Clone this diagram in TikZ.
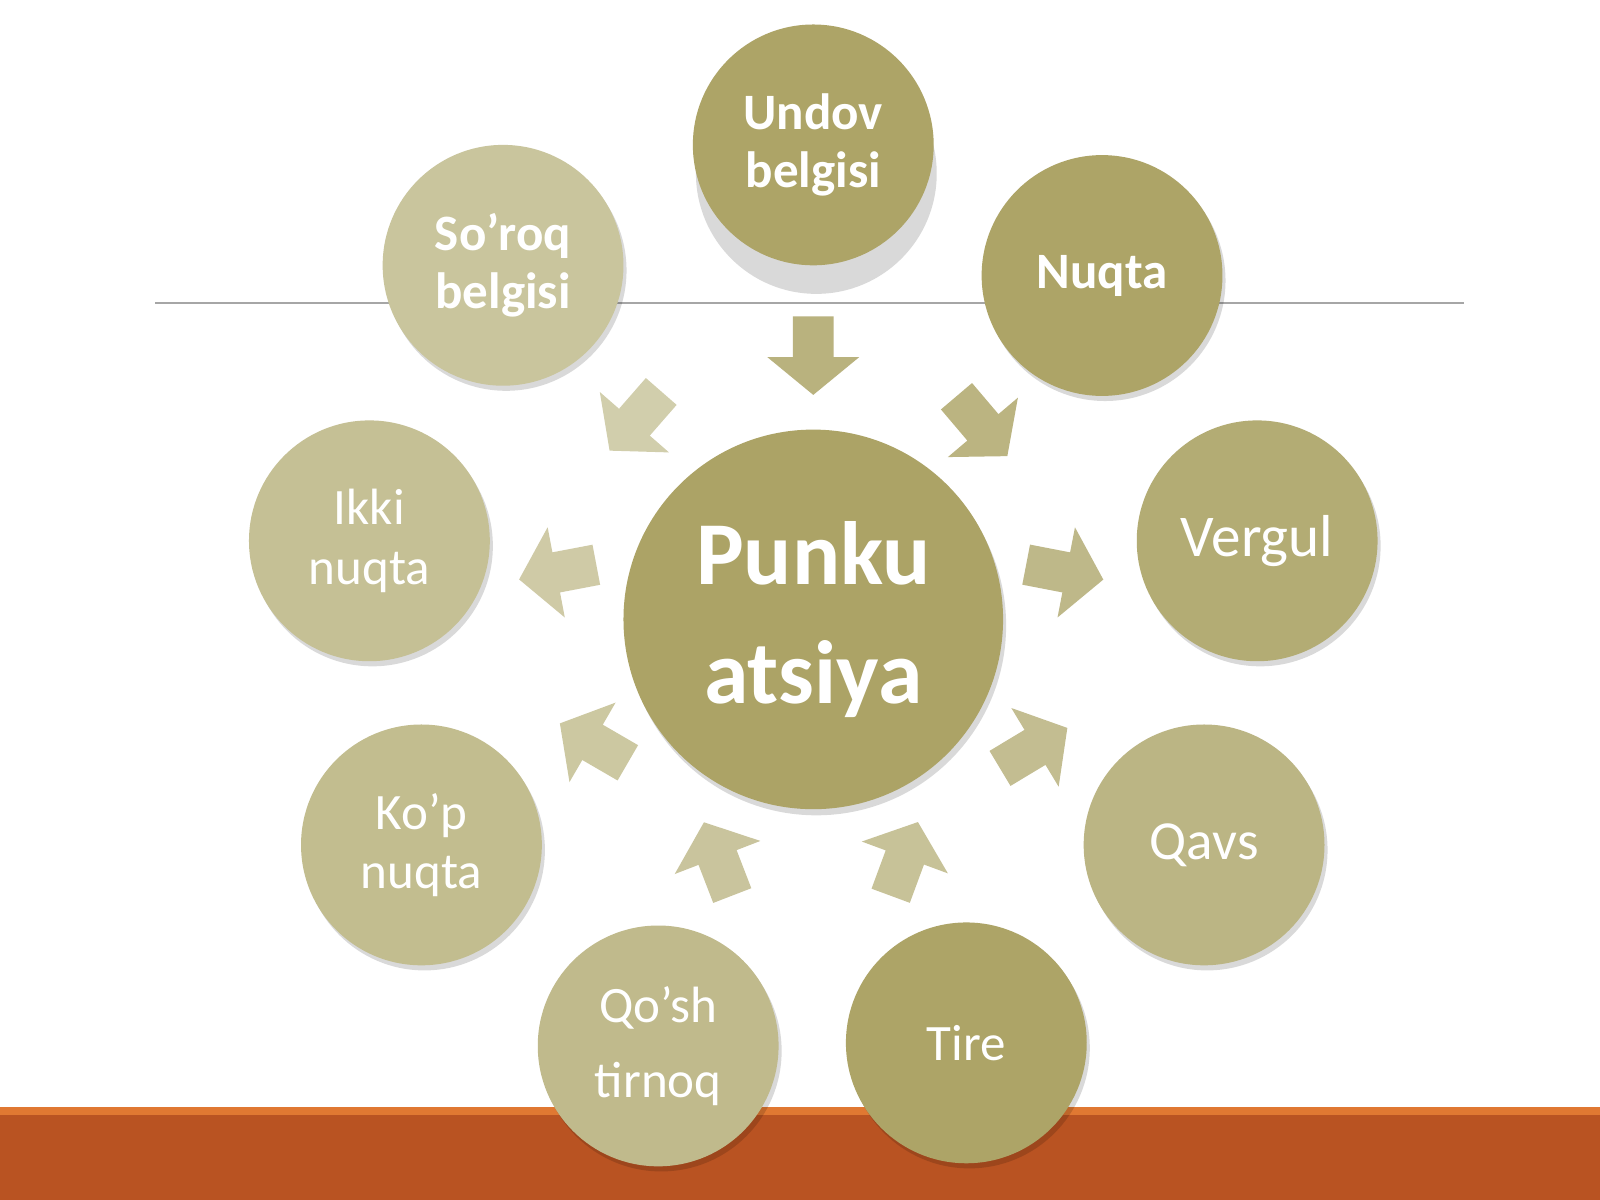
\documentclass[tikz,border=0pt]{standalone}
\usepackage{fontspec}
\setmainfont{Carlito}
\begin{document}
\begin{tikzpicture}[x=0.5pt,y=-0.5pt,
  bub/.style={circle,minimum size=118pt,inner sep=0,text=white,align=center,font=\fontsize{25}{29}\selectfont},
  shd/.style={fill=black,opacity=0.15}]
\useasboundingbox (0,0) rectangle (1568,1176);
\fill[white] (0,0) rectangle (1568,1176);
\fill[color={rgb,255:red,185;green,83;blue,34}] (0,1085) rectangle (1568,1176);
\fill[color={rgb,255:red,224;green,120;blue,50}] (0,1085) rectangle (1568,1093);
\draw[gray!70,line width=0.8] (152,297) -- (1435,297);
% arrows
\foreach \x/\y/\c in {797/345/ADA467,960/415/AFA76B,1040/560/B3AC74,1010/735/B8B27E,885/845/BDB786,705/845/C0BA8C,585/730/C3BE91,550/560/C6C196,625/410/C9C59D}{
  \definecolor{ac}{HTML}{\c}
  \fill[ac!85!white,shift={(\x,\y)},rotate={atan2(\y-607,\x-797)}]
   (-35,-20)--(5,-20)--(5,-45)--(42,0)--(5,45)--(5,20)--(-35,20)--cycle;
}
% shadows
\foreach \x/\y in {797/165,1080/270,1232/530,1180/828,947/1022,645/1025,413/828,362/530,493/260}
  \fill[shd] (\x+3,\y+5) circle (118);
\fill[shd] (800,613) circle (186);
\definecolor{c0}{HTML}{ACA366}
\definecolor{c1}{HTML}{ADA467}
\definecolor{c2}{HTML}{ADA467}
\definecolor{c3}{HTML}{B3AC74}
\definecolor{c4}{HTML}{BBB584}
\definecolor{c5}{HTML}{ADA467}
\definecolor{c6}{HTML}{C0BA8C}
\definecolor{c7}{HTML}{C2BD8F}
\definecolor{c8}{HTML}{C5C095}
\definecolor{c9}{HTML}{C9C59D}
\node[bub,fill=c0,minimum size=186pt,font=\fontsize{44}{58}\selectfont\bfseries] (p) at (797,607) {Punku\\atsiya};
\node[bub,fill=c1,font=\fontsize{25}{28}\selectfont\bfseries] (u) at (797,142) {Undov\\belgisi};
\node[bub,fill=c2,font=\fontsize{25}{28}\selectfont\bfseries] (n) at (1080,270) {Nuqta};
\node[bub,fill=c3,font=\fontsize{29}{32}\selectfont] (v) at (1232,530) {Vergul};
\node[bub,fill=c4,font=\fontsize{27}{30}\selectfont] (q) at (1180,828) {Qavs};
\node[bub,fill=c5] (t) at (947,1022) {Tire};
\node[bub,fill=c6,font=\fontsize{25}{37}\selectfont] (qt) at (645,1025) {Qo’sh\\tirnoq};
\node[bub,fill=c7] (kn) at (413,828) {Ko’p\\nuqta};
\node[bub,fill=c8] (in) at (362,530) {Ikki\\nuqta};
\node[bub,fill=c9,font=\fontsize{25}{28}\selectfont\bfseries] (sb) at (493,260) {So’roq\\belgisi};
\end{tikzpicture}
\end{document}
